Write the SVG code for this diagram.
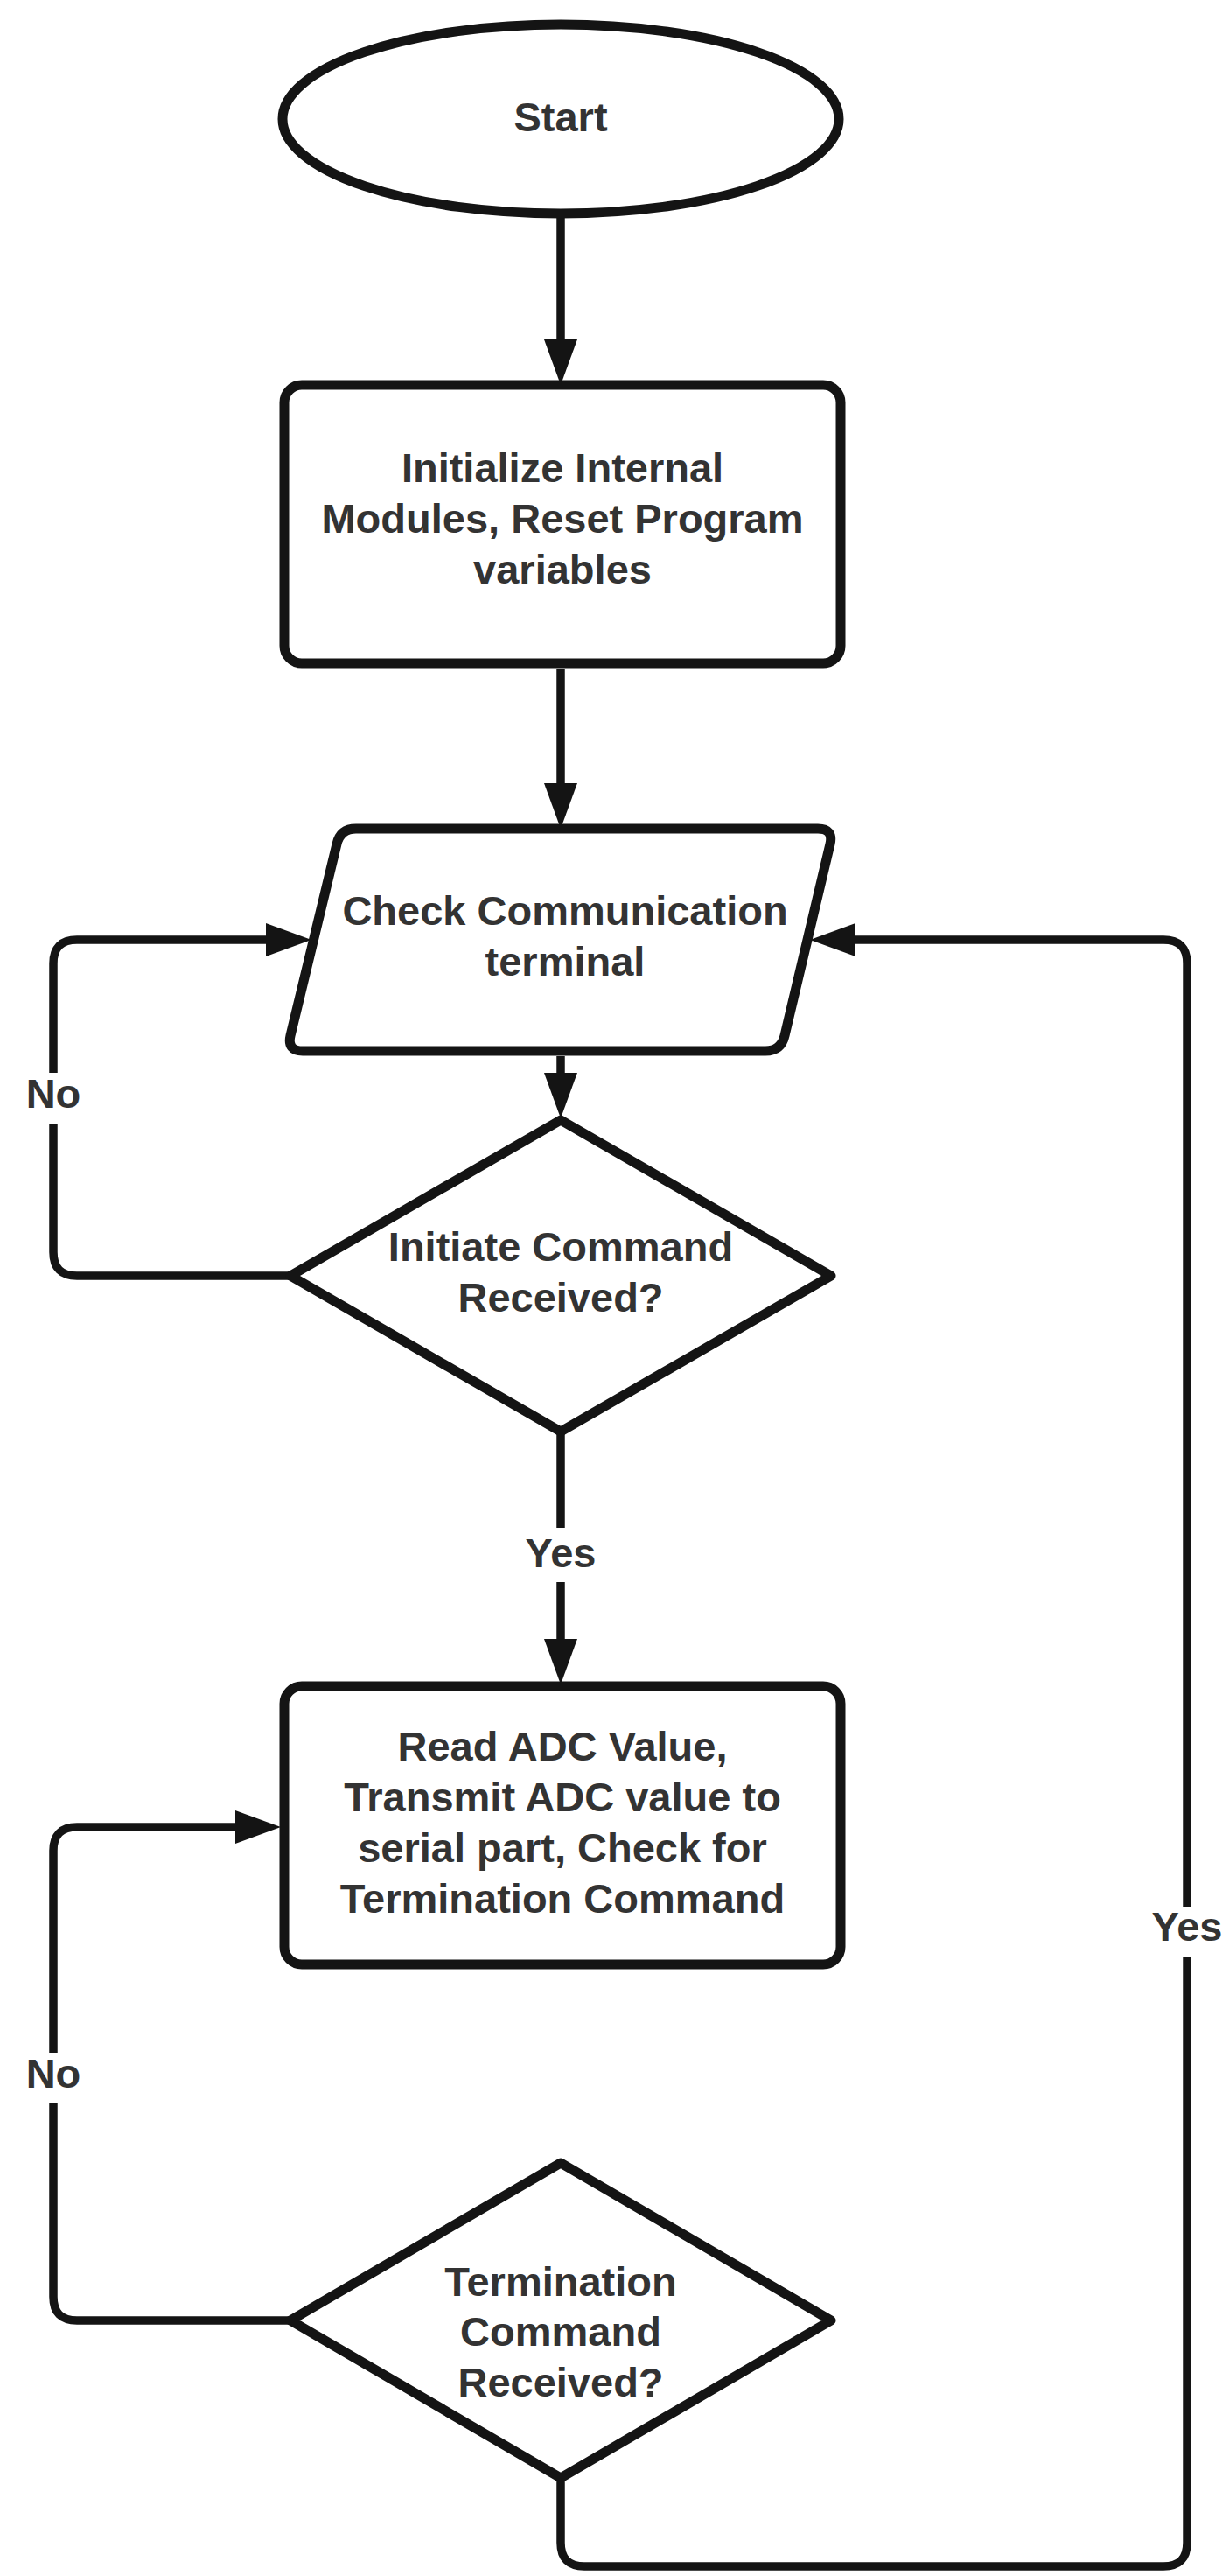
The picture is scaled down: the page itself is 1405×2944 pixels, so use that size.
<svg xmlns="http://www.w3.org/2000/svg" width="1405" height="2944" viewBox="0 0 1405 2944">
  <style>
    .shape { fill: #ffffff; stroke: #141414; stroke-width: 11; stroke-linejoin: round; }
    .wire { fill: none; stroke: #141414; stroke-width: 9.5; stroke-linejoin: round; }
    .label { font-family: "Liberation Sans", Arial, sans-serif; font-weight: bold; font-size: 47px; fill: #333333; text-anchor: middle; }
    .gap { fill: #ffffff; }
  </style>
  <defs>
    <marker id="arrow" viewBox="0 0 52 38" markerWidth="52" markerHeight="38" refX="16" refY="19" orient="auto" markerUnits="userSpaceOnUse">
      <path d="M0,0 L52,19 L0,38 Z" fill="#141414"/>
    </marker>
  </defs>

  <rect width="1405" height="2944" fill="#ffffff"/>

  <!-- connectors -->
  <g id="connectors">
    <path class="wire" d="M641,245 V404" marker-end="url(#arrow)"/>
    <path class="wire" d="M641,764 V911" marker-end="url(#arrow)"/>
    <path class="wire" d="M641,1207 V1242" marker-end="url(#arrow)"/>
    <path class="wire" d="M332,1458 H88 Q61,1458 61,1431 V1101 Q61,1074 88,1074 H320" marker-end="url(#arrow)"/>
    <path class="wire" d="M641,1636 V1889" marker-end="url(#arrow)"/>
    <path class="wire" d="M332,2652 H88 Q61,2652 61,2625 V2115 Q61,2088 88,2088 H285" marker-end="url(#arrow)"/>
    <path class="wire" d="M641,2832 V2906 Q641,2933 668,2933 H1330 Q1357,2933 1357,2906 V1101 Q1357,1074 1330,1074 H962" marker-end="url(#arrow)"/>

    <!-- connector labels -->
    <rect class="gap" x="25" y="1226" width="72" height="58"/>
    <text class="label" x="61" y="1266">No</text>
    <rect class="gap" x="25" y="2346" width="72" height="58"/>
    <text class="label" x="61" y="2386">No</text>
    <rect class="gap" x="595" y="1746" width="92" height="62"/>
    <text class="label" x="641" y="1791">Yes</text>
    <rect class="gap" x="1311" y="2179" width="92" height="57"/>
    <text class="label" x="1357" y="2218">Yes</text>
  </g>

  <!-- nodes -->
  <g id="start">
    <ellipse class="shape" cx="641" cy="136" rx="318" ry="108"/>
    <text class="label" x="641" y="150">Start</text>
  </g>

  <g id="init">
    <rect class="shape" x="325" y="440" width="636" height="318" rx="20" ry="20"/>
    <text class="label" x="643" y="551">Initialize Internal</text>
    <text class="label" x="643" y="609">Modules, Reset Program</text>
    <text class="label" x="643" y="667">variables</text>
  </g>

  <g id="check-terminal">
    <path class="shape" d="M407,947 H935 Q953,947 949,964.5 L897,1183.5 Q893,1201 875,1201 H346 Q328,1201 332,1183.5 L385,964.5 Q389,947 407,947 Z"/>
    <text class="label" x="646" y="1057">Check Communication</text>
    <text class="label" x="646" y="1115">terminal</text>
  </g>

  <g id="initiate-received">
    <polygon class="shape" points="641,1280 950,1458 641,1636 332,1458"/>
    <text class="label" x="641" y="1441">Initiate Command</text>
    <text class="label" x="641" y="1499">Received?</text>
  </g>

  <g id="read-adc">
    <rect class="shape" x="325" y="1927" width="636" height="318" rx="20" ry="20"/>
    <text class="label" x="643" y="2012">Read ADC Value,</text>
    <text class="label" x="643" y="2070">Transmit ADC value to</text>
    <text class="label" x="643" y="2128">serial part, Check for</text>
    <text class="label" x="643" y="2186">Termination Command</text>
  </g>

  <g id="termination-received">
    <polygon class="shape" points="641,2472 950,2652 641,2832 332,2652"/>
    <text class="label" x="641" y="2624">Termination</text>
    <text class="label" x="641" y="2681">Command</text>
    <text class="label" x="641" y="2739">Received?</text>
  </g>
</svg>
